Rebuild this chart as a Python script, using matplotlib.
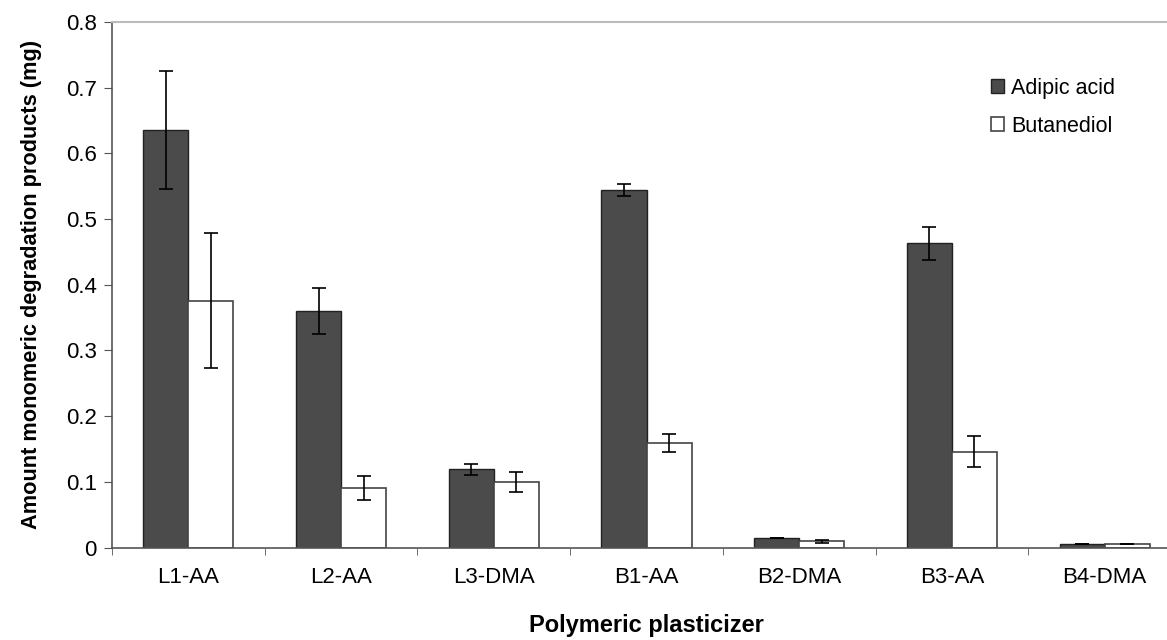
import matplotlib.pyplot as plt
import numpy as np

plt.rcParams['font.family'] = ['Liberation Sans', 'DejaVu Sans']

categories = ['L1-AA', 'L2-AA', 'L3-DMA', 'B1-AA', 'B2-DMA', 'B3-AA', 'B4-DMA']
adipic = [0.636, 0.360, 0.119, 0.544, 0.015, 0.463, 0.006]
adipic_err = [0.090, 0.035, 0.008, 0.009, 0.000, 0.025, 0.000]
butanediol = [0.376, 0.091, 0.100, 0.159, 0.0095, 0.146, 0.006]
butanediol_err = [0.103, 0.018, 0.015, 0.014, 0.002, 0.024, 0.000]
yticks = [0, 0.1, 0.2, 0.3, 0.4, 0.5, 0.6, 0.7, 0.8]
ytick_labels = ['0', '0.1', '0.2', '0.3', '0.4', '0.5', '0.6', '0.7', '0.8']

fig = plt.figure(figsize=(11.67, 6.4), dpi=100)
ax = fig.add_axes([0.096, 0.1445, 0.916, 0.821])

x = np.arange(len(categories))
w = 0.295
err_kw = dict(ecolor='black', capsize=4.7, elinewidth=1.2, capthick=1.2)
ax.bar(x - w / 2, adipic, w, yerr=adipic_err, color='#4b4b4b', edgecolor='#222222',
       linewidth=1.0, error_kw=err_kw, label='Adipic acid')
ax.bar(x + w / 2, butanediol, w, yerr=butanediol_err, color='white', edgecolor='#444444',
       linewidth=1.2, error_kw=err_kw, label='Butanediol')

ax.set_xlim(-0.5, len(categories) - 0.5)
ax.set_ylim(0, 0.8)
ax.set_yticks(yticks)
ax.set_yticklabels(ytick_labels, fontsize=16)
ax.set_xticks(x)
ax.set_xticklabels(categories, fontsize=16)
ax.tick_params(axis='x', length=0, pad=14)
ax.set_xticks(np.arange(len(categories) + 1) - 0.5, minor=True)
ax.tick_params(axis='x', which='minor', length=5, direction='out', color='#555555')
ax.tick_params(axis='y', length=6, direction='out', color='#555555', pad=5)

for side in ['left', 'bottom']:
    ax.spines[side].set_color('#555555')
    ax.spines[side].set_linewidth(1.2)
ax.spines['top'].set_color('#bbbbbb')
ax.spines['top'].set_linewidth(1.5)
ax.spines['right'].set_visible(False)

ax.set_ylabel('Amount monomeric degradation products (mg)', fontsize=15.7,
              fontweight='bold', labelpad=17)
ax.set_xlabel('Polymeric plasticizer', fontsize=17, fontweight='bold', labelpad=19)

ax.legend(loc='upper left', bbox_to_anchor=(0.812, 0.915), frameon=False, fontsize=15.5,
          borderpad=0, handlelength=0.6, handleheight=0.6, handletextpad=0.35,
          labelspacing=0.8)

fig.savefig('out.png', dpi=100)
